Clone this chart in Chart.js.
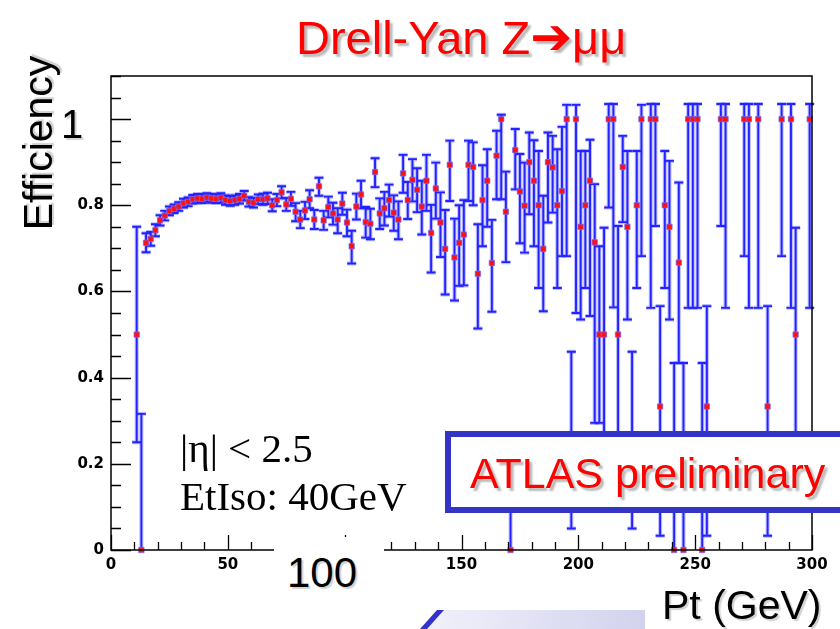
<!DOCTYPE html>
<html>
<head>
<meta charset="utf-8">
<script src="https://cdn.jsdelivr.net/npm/chart.js@4/dist/chart.umd.min.js"></script>
<style>
    body { margin: 0; background: #fff; }
    #wrap { position: relative; width: 840px; height: 629px; overflow: hidden; background: #fff; }
    #effChart { position: absolute; left: 0; top: 0; }
    .lbl { position: absolute; white-space: nowrap; line-height: 1; font-family: "Liberation Sans", Arial, sans-serif; }
    .blk { color: #000; text-shadow: 2px 2px 1px rgba(0,0,0,0.18); }
    .red { color: #ff0000; text-shadow: 3px 3px 2px rgba(0,0,0,0.28); }
    .serif { font-family: "Liberation Serif", "Times New Roman", serif; color: #000; }
</style>
</head>
<body>
<div id="wrap">
    <canvas id="effChart" width="840" height="629"></canvas>

    <div class="lbl red" style="left:296px; top:12px; font-size:47px;">Drell-Yan Z<span style="font-family:'DejaVu Sans'; font-size:50px;">➔</span>μμ</div>

    <div class="lbl blk" style="left:38px; top:143px; font-size:41px; transform:translate(-50%,-50%) rotate(-90deg);">Efficiency</div>
    <div class="lbl blk" style="left:61px; top:104px; font-size:40px;">1</div>

    <div class="lbl serif" style="left:180px; top:428px; font-size:41px;">|η| &lt; 2.5</div>
    <div class="lbl serif" style="left:180px; top:476px; font-size:41px;">EtIso: 40GeV</div>

    <div style="position:absolute; left:445px; top:431px; width:420px; height:82px; box-sizing:border-box; border:6px solid #3535c5; background:#fff;"></div>
    <div class="lbl red" style="left:470px; top:452px; font-size:43px;">ATLAS preliminary</div>

    <div style="position:absolute; left:274px; top:537px; width:110px; height:70px; background:#fff;"></div>
    <div class="lbl blk" style="left:287px; top:552px; font-size:42px;">100</div>

    <div class="lbl blk" style="left:662px; top:585px; font-size:41px;">Pt (GeV)</div>

    <div style="position:absolute; left:420px; top:610px; width:225px; height:19px; background:linear-gradient(to right,#f2f2fb,#d2d2ee); clip-path:polygon(17px 0,100% 0,100% 100%,0 100%);"></div>
    <div style="position:absolute; left:420px; top:610px; width:24px; height:19px; background:#3333cc; clip-path:polygon(17px 0,24px 0,7px 100%,0 100%);"></div>
</div>

<script>
// bin centres (GeV), efficiency and asymmetric errors
const ptBins = [
    11, 13, 15, 17, 19, 21, 23, 25, 27, 29, 31, 33, 35, 37, 39, 41, 43, 45, 47, 49,
    51, 53, 55, 57, 59, 61, 63, 65, 67, 69, 71, 73, 75, 77, 79, 81, 83, 85, 87, 89,
    91, 93, 95, 97, 99, 101, 103, 105, 107, 109, 111, 113, 115, 117, 119, 121, 123, 125, 127, 129,
    131, 133, 135, 137, 139, 141, 143, 145, 147, 149, 151, 153, 155, 157, 159, 161, 163, 165, 167, 169,
    171, 173, 175, 177, 179, 181, 183, 185, 187, 189, 191, 193, 195, 197, 199, 201, 203, 205, 207, 209,
    211, 213, 215, 217, 219, 221, 223, 225, 227, 231, 233, 235, 237, 239, 241, 243, 245, 247, 249, 251,
    253, 255, 261, 263, 271, 273, 277, 281, 287, 291, 293, 299
];
const effVals = [
    0.5, 0, 0.713, 0.722, 0.742, 0.765, 0.776, 0.787, 0.792, 0.797, 0.805, 0.808, 0.814, 0.816, 0.815, 0.818, 0.816, 0.815, 0.817, 0.812,
    0.810, 0.812, 0.815, 0.822, 0.808, 0.806, 0.814, 0.814, 0.816, 0.800, 0.812, 0.830, 0.802, 0.815, 0.785, 0.767, 0.788, 0.814, 0.767, 0.844,
    0.765, 0.796, 0.781, 0.767, 0.804, 0.760, 0.705, 0.797, 0.825, 0.761, 0.757, 0.877, 0.781, 0.793, 0.812, 0.783, 0.767, 0.874, 0.812, 0.859,
    0.836, 0.797, 0.857, 0.736, 0.839, 0.760, 0.699, 0.894, 0.679, 0.713, 0.732, 0.894, 0.889, 0.641, 0.812, 0.857, 0.666, 0.915, 1.0, 0.785,
    0, 0.928, 0.832, 0.799, 0.900, 0.857, 0.800, 0.699, 0.900, 0.888, 0.800, 0.833, 1.0, 0.2, 1.0, 0.750, 0.800, 0.857, 0.714, 0.5,
    0.5, 1.0, 1.0, 0.5, 0.889, 0.750, 0.2, 0.800, 1.0, 1.0, 1.0, 0.333, 0.800, 0.750, 0, 0.667, 0, 1.0, 1.0, 1.0,
    0, 0.333, 1.0, 1.0, 1.0, 1.0, 1.0, 0.333, 1.0, 1.0, 0.5, 1.0
];
const errHi = [
    0.25, 0.316, 0.022, 0.016, 0.014, 0.012, 0.011, 0.01, 0.01, 0.01, 0.01, 0.01, 0.01, 0.01, 0.01, 0.01, 0.01, 0.01, 0.011, 0.011,
    0.011, 0.011, 0.011, 0.011, 0.011, 0.011, 0.011, 0.013, 0.013, 0.014, 0.014, 0.014, 0.015, 0.016, 0.02, 0.02, 0.02, 0.021, 0.022, 0.02,
    0.022, 0.024, 0.025, 0.026, 0.025, 0.03, 0.036, 0.03, 0.032, 0.035, 0.035, 0.032, 0.035, 0.038, 0.036, 0.04, 0.042, 0.043, 0.042, 0.048,
    0.05, 0.06, 0.06, 0.065, 0.06, 0.07, 0.09, 0.056, 0.09, 0.087, 0.08, 0.056, 0.057, 0.115, 0.081, 0.073, 0.10, 0.058, 0.01, 0.093,
    0.25, 0.049, 0.087, 0.10, 0.069, 0.094, 0.126, 0.123, 0.069, 0.073, 0.13, 0.149, 0.033, 0.26, 0.033, 0.176, 0.126, 0.095, 0.135, 0.205,
    0.248, 0.035, 0.035, 0.252, 0.072, 0.176, 0.26, 0.126, 0.033, 0.035, 0.035, 0.233, 0.126, 0.153, 0.434, 0.186, 0.434, 0.035, 0.035, 0.035,
    0.434, 0.233, 0.035, 0.035, 0.035, 0.035, 0.035, 0.233, 0.035, 0.035, 0.248, 0.035
];
const errLo = [
    0.25, 0, 0.022, 0.016, 0.014, 0.012, 0.011, 0.01, 0.01, 0.01, 0.01, 0.01, 0.01, 0.01, 0.01, 0.01, 0.01, 0.01, 0.011, 0.011,
    0.011, 0.011, 0.011, 0.011, 0.011, 0.011, 0.011, 0.013, 0.013, 0.014, 0.014, 0.014, 0.015, 0.016, 0.022, 0.02, 0.02, 0.021, 0.022, 0.022,
    0.022, 0.024, 0.026, 0.032, 0.026, 0.032, 0.04, 0.03, 0.032, 0.036, 0.036, 0.035, 0.036, 0.04, 0.038, 0.042, 0.046, 0.045, 0.044, 0.05,
    0.052, 0.065, 0.07, 0.092, 0.07, 0.08, 0.106, 0.084, 0.10, 0.10, 0.118, 0.084, 0.089, 0.127, 0.107, 0.107, 0.113, 0.101, 0.186, 0.117,
    0, 0.091, 0.12, 0.109, 0.121, 0.152, 0.192, 0.145, 0.14, 0.105, 0.192, 0.151, 0.318, 0.15, 0.45, 0.215, 0.192, 0.314, 0.419, 0.205,
    0.30, 0.205, 0.437, 0.30, 0.128, 0.215, 0.15, 0.192, 0.318, 0.438, 0.248, 0.30, 0.192, 0.215, 0, 0.233, 0, 0.438, 0.438, 0.438,
    0, 0.30, 0.248, 0.438, 0.318, 0.438, 0.438, 0.30, 0.318, 0.438, 0.30, 0.438
];
const binHalfWidth = 1;

// axis ticks
const xTickVals = [0, 50, 100, 150, 200, 250, 300];
const yTickVals = [0, 0.2, 0.4, 0.6, 0.8];
const yMajorMarks = [0, 0.2, 0.4, 0.6, 0.8, 1.0];
const xMinorStep = 10;
const yMinorStep = 0.05;

// error bars drawn under the markers, placed through the chart scales
const errorBarPlugin = {
    id: 'errorBars',
    beforeDatasetsDraw(chart) {
        const { ctx, scales: { x, y } } = chart;
        const cap = 4.5;
        const passes = [
            { color: 'rgba(120,120,255,0.5)', width: 4 },
            { color: '#2323ff', width: 1.9 }
        ];
        ctx.save();
        passes.forEach(p => {
            ctx.strokeStyle = p.color;
            ctx.lineWidth = p.width;
            ptBins.forEach((pt, i) => {
                const px = x.getPixelForValue(pt);
                const py = y.getPixelForValue(effVals[i]);
                const top = y.getPixelForValue(effVals[i] + errHi[i]);
                const bot = y.getPixelForValue(effVals[i] - errLo[i]);
                ctx.beginPath();
                ctx.moveTo(px, top);
                ctx.lineTo(px, bot);
                if (errHi[i] > 0) { ctx.moveTo(px - cap, top); ctx.lineTo(px + cap, top); }
                if (errLo[i] > 0) { ctx.moveTo(px - cap, bot); ctx.lineTo(px + cap, bot); }
                ctx.moveTo(x.getPixelForValue(pt - binHalfWidth), py);
                ctx.lineTo(x.getPixelForValue(pt + binHalfWidth), py);
                ctx.stroke();
            });
        });
        ctx.restore();
    }
};

// ROOT-style frame with inward ticks
const framePlugin = {
    id: 'frame',
    afterDraw(chart) {
        const { ctx, chartArea: a, scales: { x, y } } = chart;
        ctx.save();
        ctx.strokeStyle = '#000';
        ctx.lineWidth = 1.5;
        ctx.strokeRect(a.left, a.top, a.right - a.left, a.bottom - a.top);
        ctx.lineWidth = 1.3;
        ctx.beginPath();
        for (let v = 0; v <= y.max + 1e-9; v += yMinorStep) {
            const py = Math.round(y.getPixelForValue(v)) + 0.5;
            const major = yMajorMarks.some(m => Math.abs(m - v) < 1e-6);
            ctx.moveTo(a.left, py);
            ctx.lineTo(a.left + (major ? 20 : 10), py);
        }
        for (let v = 0; v <= x.max; v += xMinorStep) {
            const px = Math.round(x.getPixelForValue(v)) + 0.5;
            const major = xTickVals.includes(v);
            ctx.moveTo(px, a.bottom);
            ctx.lineTo(px, a.bottom - (major ? 15 : 8));
        }
        ctx.stroke();
        ctx.restore();
    }
};

const tickFont = { family: 'DejaVu Sans', weight: 'bold', size: 15 };

const effChart = new Chart(document.getElementById('effChart').getContext('2d'), {
    type: 'scatter',
    data: {
        datasets: [{
            label: 'Efficiency',
            data: ptBins.map((pt, i) => ({ x: pt, y: effVals[i] })),
            pointStyle: 'rect',
            pointRadius: 3.8,
            backgroundColor: '#ff1010',
            borderColor: 'rgba(110,110,255,0.7)',
            borderWidth: 1,
            clip: false
        }]
    },
    options: {
        responsive: false,
        animation: false,
        events: [],
        layout: { padding: { left: 0, right: 28, top: 76, bottom: 0 } },
        plugins: { legend: { display: false }, tooltip: { enabled: false } },
        scales: {
            x: {
                type: 'linear', min: 0, max: 300,
                grid: { display: false, drawTicks: false },
                border: { display: false },
                afterBuildTicks: s => { s.ticks = xTickVals.map(v => ({ value: v })); },
                afterFit: s => { s.height = 79; },
                ticks: { padding: 6, font: tickFont, color: '#000', maxRotation: 0, autoSkip: false }
            },
            y: {
                type: 'linear', min: 0, max: 1.1,
                grid: { display: false, drawTicks: false },
                border: { display: false },
                afterBuildTicks: s => { s.ticks = yTickVals.map(v => ({ value: v })); },
                afterFit: s => { s.width = 111; },
                ticks: {
                    padding: 7, font: tickFont, color: '#000', autoSkip: false,
                    callback: v => v === 0 ? '0' : v.toFixed(1)
                }
            }
        }
    },
    plugins: [errorBarPlugin, framePlugin]
});
</script>
</body>
</html>
